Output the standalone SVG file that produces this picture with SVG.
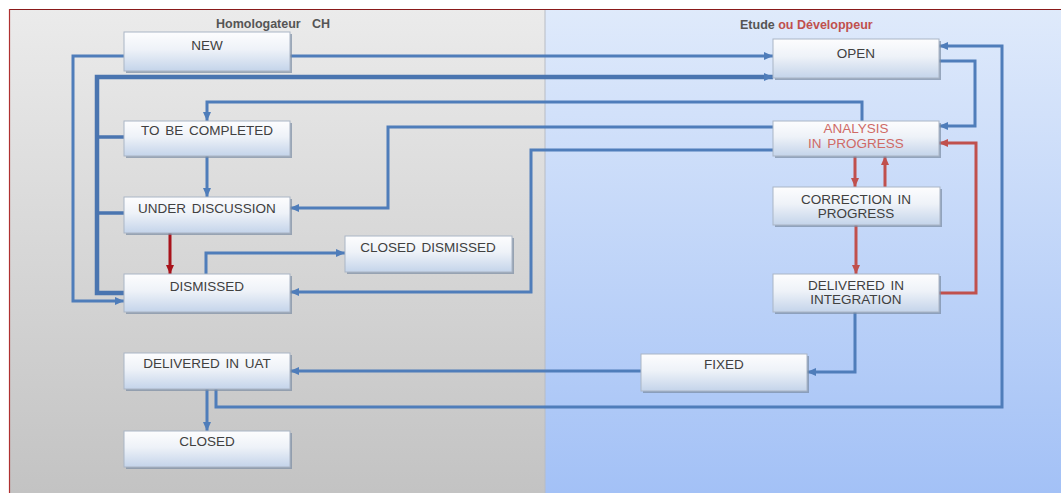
<svg xmlns="http://www.w3.org/2000/svg" width="1061" height="493" viewBox="0 0 1061 493">
<defs>
<linearGradient id="gGray" x1="0" y1="0" x2="0" y2="1">
<stop offset="0" stop-color="#ebebeb"/><stop offset="1" stop-color="#c3c3c3"/>
</linearGradient>
<linearGradient id="gBlue" x1="0" y1="0" x2="0" y2="1">
<stop offset="0" stop-color="#dfeafb"/><stop offset="1" stop-color="#a3c1f6"/>
</linearGradient>
<linearGradient id="gBox" x1="0" y1="0" x2="0" y2="1">
<stop offset="0" stop-color="#fdfdfe"/><stop offset="0.45" stop-color="#eef2f8"/><stop offset="1" stop-color="#c4d4ea"/>
</linearGradient>
<marker id="aB" markerUnits="userSpaceOnUse" markerWidth="10" markerHeight="10" viewBox="0 0 10 10" refX="9" refY="5" orient="auto">
<path d="M0 1 L9 5 L0 9 Z" fill="#4f7dba"/>
</marker>
<marker id="aR" markerUnits="userSpaceOnUse" markerWidth="10" markerHeight="10" viewBox="0 0 10 10" refX="9" refY="5" orient="auto">
<path d="M0 1 L9 5 L0 9 Z" fill="#c0504d"/>
</marker>
<marker id="aD" markerUnits="userSpaceOnUse" markerWidth="10" markerHeight="10" viewBox="0 0 10 10" refX="9" refY="5" orient="auto">
<path d="M0 1 L9 5 L0 9 Z" fill="#a8121a"/>
</marker>
</defs>
<style>
.box{fill:url(#gBox);stroke:#aab5c5;stroke-width:1}
.sh{fill:#7b8ba3;opacity:0.7}
.t{font-family:"Liberation Sans",Arial,sans-serif;font-size:13.5px;fill:#404040;text-anchor:middle;word-spacing:2px}
.tr{fill:#cf6a66}
.h{font-family:"Liberation Sans",Arial,sans-serif;font-size:12.5px;font-weight:bold;fill:#555}
.c{fill:none;stroke:#4f7dba;stroke-width:3;stroke-linejoin:miter}
.ck{fill:none;stroke:#4a75b0;stroke-width:4.5}
.cb{fill:none;stroke:#4a75b0;stroke-width:3.5}
.r{fill:none;stroke:#c0504d;stroke-width:3}
.rd{fill:none;stroke:#a8121a;stroke-width:3}
</style>
<rect x="0" y="0" width="1061" height="493" fill="#ffffff"/>
<rect x="9" y="9" width="536" height="484" fill="url(#gGray)"/>
<rect x="545" y="9" width="516" height="484" fill="url(#gBlue)"/>
<line x1="545" y1="9" x2="545" y2="493" stroke="#b8bcc4" stroke-width="1"/>
<line x1="9" y1="9.5" x2="1061" y2="9.5" stroke="#8a1a1a" stroke-width="1.2"/>
<line x1="9.5" y1="9" x2="9.5" y2="493" stroke="#b03030" stroke-width="1.2"/>
<text class="h" x="216" y="28">Homologateur</text>
<text class="h" x="312" y="28">CH</text>
<text class="h" x="740" y="29">Etude <tspan fill="#c0504d">ou Développeur</tspan></text>

<g id="connectors">
<path class="c" d="M290 56 H773" marker-end="url(#aB)"/>
<path class="c" d="M124 56 H73 V301 H124" marker-end="url(#aB)"/>
<path class="ck" d="M124 293 H97 V77 H773" marker-end="url(#aB)"/>
<path class="cb" d="M124 137 H97"/>
<path class="cb" d="M124 213 H97"/>
<path class="c" d="M862 121 V102 H207 V121" marker-end="url(#aB)"/>
<path class="c" d="M773 127 H388 V208 H290" marker-end="url(#aB)"/>
<path class="c" d="M773 150 H531 V292 H290" marker-end="url(#aB)"/>
<path class="c" d="M207 156 V197" marker-end="url(#aB)"/>
<path class="rd" d="M170 233 V274" marker-end="url(#aD)"/>
<path class="c" d="M206 274 V253 H345" marker-end="url(#aB)"/>
<path class="c" d="M939 61 H975 V126 H939" marker-end="url(#aB)"/>
<path class="c" d="M216 389 V407 H1002 V46 H939" marker-end="url(#aB)"/>
<path class="r" d="M855 156 V187" marker-end="url(#aR)"/>
<path class="r" d="M885 187 V156" marker-end="url(#aR)"/>
<path class="r" d="M856 225 V274" marker-end="url(#aR)"/>
<path class="r" d="M939 293 H976 V143 H939" marker-end="url(#aR)"/>
<path class="c" d="M855 312 V372 H807" marker-end="url(#aB)"/>
<path class="c" d="M641 371 H290" marker-end="url(#aB)"/>
<path class="c" d="M207 389 V431" marker-end="url(#aB)"/>
</g>

<g id="new"><rect class="sh" x="126" y="34" width="166" height="39"/><rect class="box" x="124" y="32" width="166" height="39"/><text class="t" x="207" y="50">NEW</text></g>
<g id="to-be-completed"><rect class="sh" x="126" y="123" width="166" height="35"/><rect class="box" x="124" y="121" width="166" height="35"/><text class="t" x="207" y="135">TO BE COMPLETED</text></g>
<g id="under-discussion"><rect class="sh" x="126" y="199" width="166" height="36"/><rect class="box" x="124" y="197" width="166" height="36"/><text class="t" x="207" y="213">UNDER DISCUSSION</text></g>
<g id="dismissed"><rect class="sh" x="126" y="276" width="166" height="38"/><rect class="box" x="124" y="274" width="166" height="38"/><text class="t" x="207" y="291">DISMISSED</text></g>
<g id="closed-dismissed"><rect class="sh" x="347" y="238" width="167" height="36"/><rect class="box" x="345" y="236" width="167" height="36"/><text class="t" x="428" y="252">CLOSED DISMISSED</text></g>
<g id="delivered-uat"><rect class="sh" x="126" y="355" width="166" height="36"/><rect class="box" x="124" y="353" width="166" height="36"/><text class="t" x="207" y="368">DELIVERED IN UAT</text></g>
<g id="closed"><rect class="sh" x="126" y="433" width="166" height="36"/><rect class="box" x="124" y="431" width="166" height="36"/><text class="t" x="207" y="446">CLOSED</text></g>
<g id="open"><rect class="sh" x="775" y="41" width="166" height="39"/><rect class="box" x="773" y="39" width="166" height="39"/><text class="t" x="856" y="58">OPEN</text></g>
<g id="analysis"><rect class="sh" x="775" y="123" width="166" height="35"/><rect class="box" x="773" y="121" width="166" height="35"/><text class="t tr" x="856" y="133">ANALYSIS</text><text class="t tr" x="856" y="148">IN PROGRESS</text></g>
<g id="correction"><rect class="sh" x="775" y="189" width="167" height="38"/><rect class="box" x="773" y="187" width="167" height="38"/><text class="t" x="856" y="204">CORRECTION IN</text><text class="t" x="856" y="218">PROGRESS</text></g>
<g id="delivered-integration"><rect class="sh" x="775" y="276" width="166" height="38"/><rect class="box" x="773" y="274" width="166" height="38"/><text class="t" x="856" y="290">DELIVERED IN</text><text class="t" x="856" y="304">INTEGRATION</text></g>
<g id="fixed"><rect class="sh" x="643" y="356" width="166" height="37"/><rect class="box" x="641" y="354" width="166" height="37"/><text class="t" x="724" y="369">FIXED</text></g>
</svg>
